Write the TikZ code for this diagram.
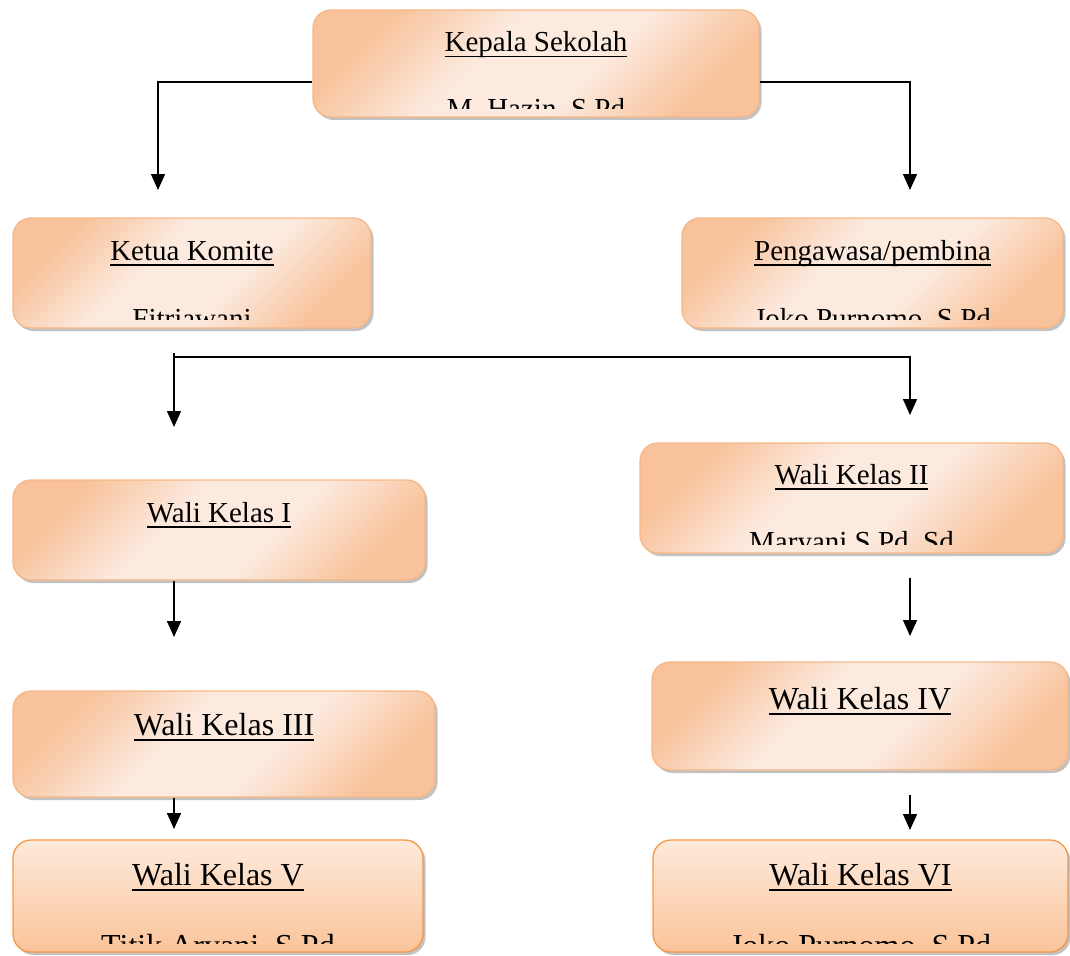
\documentclass[tikz,border=0pt]{standalone}
\usepackage{fontspec}
\setmainfont{Liberation Serif}
\usetikzlibrary{arrows.meta,shadows,calc}
\definecolor{peach}{HTML}{F8C29A}
\definecolor{peachlight}{HTML}{FCEADF}
\definecolor{peachedge}{HTML}{F5B888}
\definecolor{orgedge}{HTML}{F79646}
\definecolor{btop}{HTML}{FDEADC}
\definecolor{bbot}{HTML}{FBC49A}
\newcommand\myul[1]{\setbox0\hbox{#1}\leavevmode\rlap{\rule[-5.5pt]{\wd0}{1.4pt}}\box0}
\pgfdeclarehorizontalshading{peachband}{100bp}{color(0bp)=(peach); color(25bp)=(peach); color(42bp)=(peachlight); color(58bp)=(peachlight); color(75bp)=(peach); color(100bp)=(peach)}
\tikzset{
  box/.style={rounded corners=18pt, draw=peachedge, line width=1.3pt,
    shading=peachband, shading angle=-45,
    drop shadow={shadow xshift=2.5pt, shadow yshift=-3pt, fill=black!40, opacity=0.6}},
  boxb/.style={rounded corners=18pt, draw=orgedge, line width=1.3pt,
    top color=btop, bottom color=bbot,
    drop shadow={shadow xshift=2.5pt, shadow yshift=-3pt, fill=black!40, opacity=0.6}},
  tsm/.style={anchor=base, inner sep=0pt, font=\fontsize{29}{34}\selectfont},
  tlg/.style={anchor=base, inner sep=0pt, font=\fontsize{32}{38}\selectfont},
  arr/.style={line width=1.5pt, -{Triangle[width=14pt,length=16pt]}},
  ln/.style={line width=1.5pt}
}
\begin{document}
\begin{tikzpicture}[x=1pt,y=-1pt]
\useasboundingbox (0,0) rectangle (1070,955);
% boxes
\node[box, minimum width=446pt, minimum height=107pt] (ks) at (536,63.5) {};
\node[box, minimum width=358pt, minimum height=110pt] (kk) at (192,273) {};
\node[box, minimum width=381pt, minimum height=110pt] (pg) at (872.5,273) {};
\node[box, minimum width=412pt, minimum height=100pt] (w1) at (219,530) {};
\node[box, minimum width=423pt, minimum height=110pt] (w2) at (851.5,498) {};
\node[box, minimum width=422pt, minimum height=106pt] (w3) at (224,744) {};
\node[box, minimum width=416pt, minimum height=108pt] (w4) at (860,716) {};
\node[boxb, minimum width=410pt, minimum height=112pt] (w5) at (218,896) {};
\node[boxb, minimum width=415pt, minimum height=112pt] (w6) at (860.5,896) {};
% titles
\coordinate (y1) at (0,52);
\coordinate (y2) at (0,260);
\coordinate (y3) at (0,484);
\coordinate (y4) at (0,522);
\coordinate (y5) at (0,735);
\coordinate (y6) at (0,709);
\coordinate (y7) at (0,885);
\node[tsm] (tks) at (ks.center |- y1) {\myul{Kepala Sekolah}};
\node[tsm] (tkk) at (kk.center |- y2) {\myul{Ketua Komite}};
\node[tsm] (tpg) at (pg.center |- y2) {\myul{Pengawasa/pembina}};
\node[tsm] (tw2) at (w2.center |- y3) {\myul{Wali Kelas II}};
\node[tsm] (tw1) at (w1.center |- y4) {\myul{Wali Kelas I}};
\node[tlg] (tw3) at (w3.center |- y5) {\myul{Wali Kelas III}};
\node[tlg] (tw4) at (w4.center |- y6) {\myul{Wali Kelas IV}};
\node[tlg] (tw5) at (w5.center |- y7) {\myul{Wali Kelas V}};
\node[tlg] (tw6) at (w6.center |- y7) {\myul{Wali Kelas VI}};
% clipped second lines
\coordinate (z1) at (0,118);
\coordinate (z2) at (0,328);
\coordinate (z3) at (0,551);
\coordinate (z4) at (0,956);
\begin{scope}
\clip (ks.north west) rectangle ([yshift=9pt]ks.south east);
\node[tsm] (nks) at (ks.center |- z1) {M. Hazin, S.Pd};
\end{scope}
\begin{scope}
\clip (kk.north west) rectangle ([yshift=9pt]kk.south east);
\node[tsm] (nkk) at (kk.center |- z2) {Fitriawani};
\end{scope}
\begin{scope}
\clip (pg.north west) rectangle ([yshift=9pt]pg.south east);
\node[tsm] (npg) at (pg.center |- z2) {Joko Purnomo, S.Pd};
\end{scope}
\begin{scope}
\clip (w2.north west) rectangle ([yshift=9pt]w2.south east);
\node[tsm] (nw2) at (w2.center |- z3) {Maryani S.Pd, Sd};
\end{scope}
\begin{scope}
\clip (w5.north west) rectangle ([yshift=9pt]w5.south east);
\node[tlg] (nw5) at (w5.center |- z4) {Titik Aryani, S.Pd};
\end{scope}
\begin{scope}
\clip (w6.north west) rectangle ([yshift=9pt]w6.south east);
\node[tlg] (nw6) at (w6.center |- z4) {Joko Purnomo, S.Pd};
\end{scope}
% connectors
\coordinate (a1) at (158,190);
\coordinate (a2) at (910,190);
\draw[arr] ([yshift=-18.5pt]ks.west) -| (a1);
\draw[arr] ([yshift=-18.5pt]ks.east) -| (a2);
\coordinate (h0) at (174,353);
\coordinate (h1) at (174,357);
\coordinate (b1) at (174,427);
\coordinate (b2) at (910,415);
\draw[arr] (h0) -- (b1);
\draw[arr] (h1) -| (b2);
\coordinate (L) at (174,0);
\coordinate (R) at (910,0);
\coordinate (c1) at (0,637);
\coordinate (c2s) at (0,578);
\coordinate (c2) at (0,636);
\coordinate (d1) at (0,829);
\coordinate (d2s) at (0,795);
\coordinate (d2) at (0,830);
\draw[arr] (w1.south -| L) -- (L |- c1);
\draw[arr] (R |- c2s) -- (R |- c2);
\draw[arr] (w3.south -| L) -- (L |- d1);
\draw[arr] (R |- d2s) -- (R |- d2);
\end{tikzpicture}
\end{document}
